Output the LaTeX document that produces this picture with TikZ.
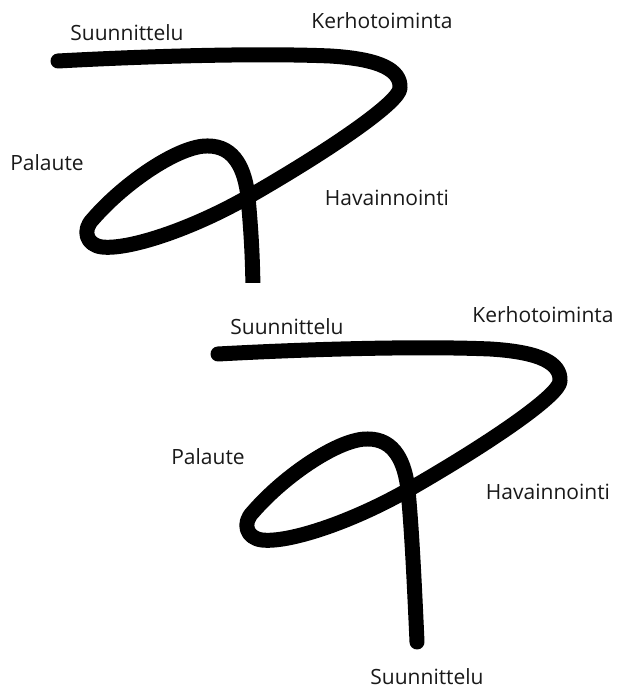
\documentclass[tikz,border=0pt]{standalone}
\usepackage{fontspec}
\setmainfont{Open Sans}
\definecolor{txt}{RGB}{25,25,25}
\tikzset{
  stroke/.style={line width=15pt, line cap=round, line join=round, black},
  lbl/.style={font=\fontsize{21}{25}\selectfont, text=txt, inner sep=0pt}
}
\newcommand{\loopcurve}[1]{%
  \draw[stroke] (58,629) .. controls (150,634) and (260,637) .. (330,634)
    .. controls (380,631) and (401,620) .. (400,602)
    .. controls (400,588) and (330,540) .. (248,493)
    .. controls (190,460) and (128,440) .. (102,443)
    .. controls (86,445) and (82,460) .. (93,471)
    .. controls (125,508) and (180,545) .. (208,544)
    .. controls (235,544) and (245,520) .. (248,493)
    .. controls (251,460) and (253,430) .. #1;}
\begin{document}
\begin{tikzpicture}[x=1pt,y=1pt]
\useasboundingbox (0,0) rectangle (619,690);
% ---------- first copy ----------
\begin{scope}
\clip (0,407) rectangle (619,690);
\loopcurve{(253,390)}
\end{scope}
\node[lbl] (s1) at (127,657) {Suunnittelu};
\node[lbl] (k1) at (382,669) {Kerhotoiminta};
\node[lbl] (p1) at (47,527) {Palaute};
\node[lbl] (v1) at (387,492) {Havainnointi};
% ---------- second copy ----------
\begin{scope}[shift={(160,-293)}]
\loopcurve{(257,341)}
\end{scope}
\node[lbl] (s2) at (287,363) {Suunnittelu};
\node[lbl] (k2) at (543,375) {Kerhotoiminta};
\node[lbl] (p2) at (208,233) {Palaute};
\node[lbl] (v2) at (548,198) {Havainnointi};
\node[lbl] (s3) at (427,13) {Suunnittelu};
\end{tikzpicture}
\end{document}
